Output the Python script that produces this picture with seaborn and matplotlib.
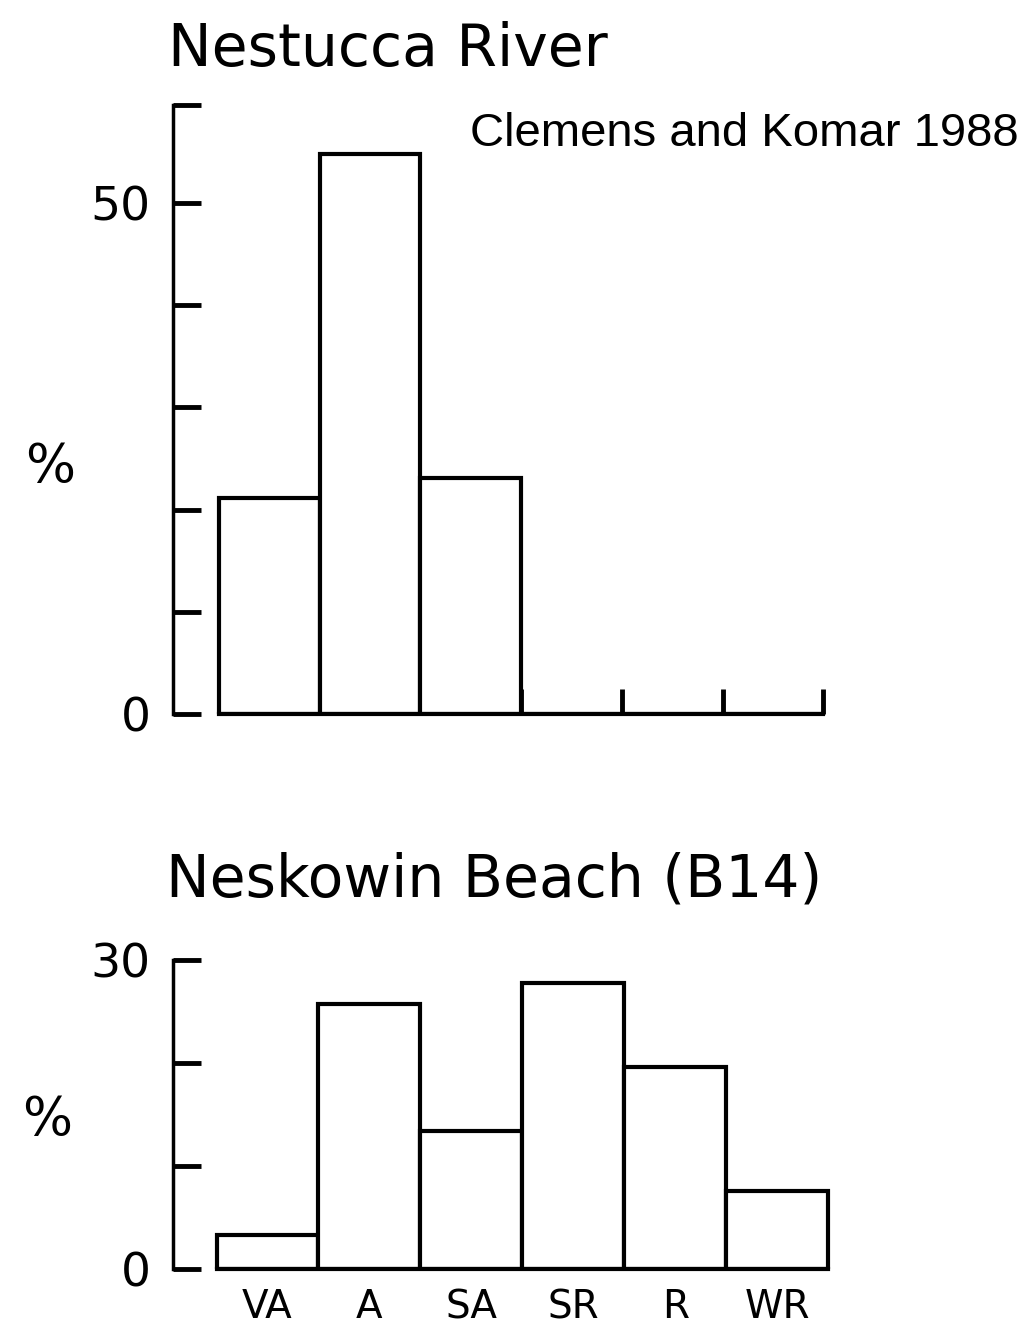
import matplotlib
matplotlib.use('Agg')
import matplotlib.pyplot as plt
import seaborn as sns
import pandas as pd

# ---------------- data ----------------
categories = ['VA', 'A', 'SA', 'SR', 'R', 'WR']
river_pct = [21.1, 54.8, 23.1, 0.0, 0.0, 0.0]
beach_pct = [3.3, 25.7, 13.4, 27.8, 19.6, 7.6]
river_yticks = [0, 10, 20, 30, 40, 50, 59.6]
river_yticklabels = ['0', '', '', '', '', '50', '']
beach_yticks = [0, 10, 20, 30]
beach_yticklabels = ['0', '', '', '30']
bin_edges = [-0.5, 0.5, 1.5, 2.5, 3.5, 4.5, 5.5]
title_river = 'Nestucca River'
title_beach = 'Neskowin Beach (B14)'
source_note = 'Clemens and Komar 1988'
ylabel = '%'

# ---------------- style ----------------
sns.set_theme(style='white')
plt.rcParams['font.family'] = ['DejaVu Sans']

W, H = 1030, 1338
fig = plt.figure(figsize=(W / 100, H / 100), dpi=100)
fig.patch.set_facecolor('white')


def px_axes(left, right, top, bottom):
    return fig.add_axes([left / W, 1 - bottom / H, (right - left) / W, (bottom - top) / H])


def style_axes(ax, yticks, yticklabels, ylim, xlim, show_xlabels):
    ax.set_facecolor('white')
    ax.grid(False)
    for s in ('top', 'right'):
        ax.spines[s].set_visible(False)
    ax.spines['left'].set_linewidth(2.5)
    ax.spines['left'].set_color('black')
    ax.spines['bottom'].set_linewidth(3)
    ax.spines['bottom'].set_color('black')
    ax.spines['bottom'].set_bounds(bin_edges[0], bin_edges[-1])
    ax.set_ylim(*ylim)
    ax.spines['left'].set_bounds(*ylim)
    ax.set_xlim(*xlim)
    ax.set_yticks(yticks)
    ax.set_yticklabels(yticklabels)
    ax.tick_params(axis='y', direction='in', length=20, width=3.5, pad=16,
                   labelsize=34, color='black', labelcolor='black', left=True)
    ax.set_xticks(range(len(categories)))
    if show_xlabels:
        ax.set_xticklabels(categories)
    else:
        ax.set_xticklabels([''] * len(categories))
    ax.tick_params(axis='x', which='major', length=0, pad=14, labelsize=28,
                   labelcolor='black', bottom=True)
    ax.set_xlabel('')
    ax.set_ylabel('')


# ---------------- top panel ----------------
ax1 = px_axes(172.8, 830, 105, 714)
df1 = pd.DataFrame({'category': categories, 'pct': river_pct})
sns.barplot(data=df1, x='category', y='pct', order=categories, ax=ax1,
            color='white', edgecolor='black', linewidth=3, width=1,
            saturation=1, errorbar=None)
style_axes(ax1, river_yticks, river_yticklabels, (0, 59.6), (-0.958, 5.567), False)
ax1.set_xticks(bin_edges, minor=True)
ax1.tick_params(axis='x', which='minor', direction='in', length=18, width=3.5,
                bottom=True, color='black')

# ---------------- bottom panel ----------------
ax2 = px_axes(172.8, 835, 960, 1269)
df2 = pd.DataFrame({'category': categories, 'pct': beach_pct})
sns.barplot(data=df2, x='category', y='pct', order=categories, ax=ax2,
            color='white', edgecolor='black', linewidth=3, width=1,
            saturation=1, errorbar=None)
style_axes(ax2, beach_yticks, beach_yticklabels, (0, 30), (-0.929, 5.567), True)

# ---------------- texts ----------------
def ftext(x, y, s, **kw):
    fig.text(x / W, 1 - y / H, s, **kw)

ftext(168, 66, title_river, fontsize=42, ha='left', va='baseline', color='black')
ftext(166, 896, title_beach, fontsize=42, ha='left', va='baseline', color='black')
ftext(470, 146, source_note, fontsize=34, ha='left', va='baseline', color='black',
      family=['Liberation Sans', 'DejaVu Sans'])
ftext(50, 467, ylabel, fontsize=38, ha='center', va='center', color='black')
ftext(47, 1120, ylabel, fontsize=38, ha='center', va='center', color='black')

fig.savefig('out.png', dpi=100, facecolor='white')
